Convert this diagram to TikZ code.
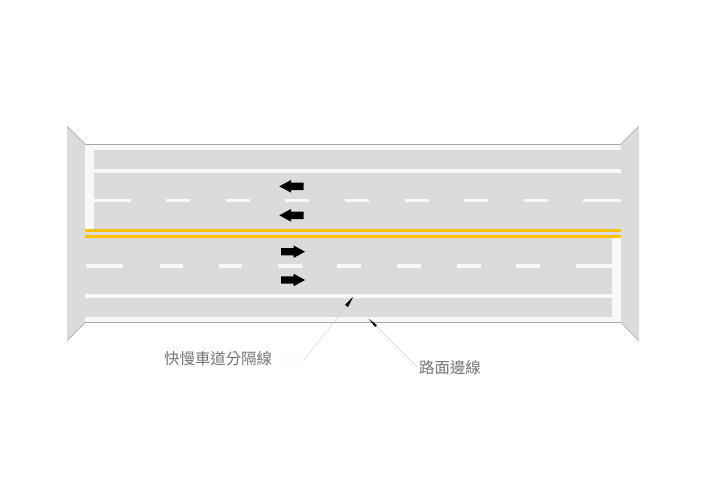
\documentclass[tikz,border=0pt]{standalone}
\usepackage{fontspec}
\newfontfamily\cjk{Noto Sans CJK TC}
\usetikzlibrary{arrows.meta}
\definecolor{road}{HTML}{DBDBDB}
\definecolor{paint}{HTML}{F8F8F8}
\definecolor{edgeline}{HTML}{A8A8A8}
\definecolor{amber}{HTML}{FFC000}
\tikzset{
  x=1pt,y=-1pt,
  roadfill/.style={fill=road,draw=none},
  border/.style={draw=edgeline,line width=1.2pt},
  band/.style={fill=paint,draw=none},
  marking/.style={draw=paint,line width=3.3pt},
  solidline/.style={marking},
  yellowline/.style={draw=amber,line width=3.2pt},
  trafficarrow/.style={fill=black,draw=none},
  label/.style={font=\cjk\fontsize{15.4pt}{16pt}\selectfont,text=black!55,inner sep=0pt},
  leader/.style={draw=black!20,line width=0.4pt},
  tipshape/.style={fill=black,draw=none},
}
\newcommand{\dashrow}[2]{\foreach \a/\b in {#2}{\draw[marking] (\a,#1) -- (\b,#1);}}
\newcommand{\leftarrowmark}[1]{\fill[trafficarrow] (279.3,#1) -- (291,#1-6.3) -- (291,#1-3.7) -- (303.5,#1-3.7) -- (303.5,#1+3.7) -- (291,#1+3.7) -- (291,#1+6.3) -- cycle;}
\newcommand{\rightarrowmark}[1]{\fill[trafficarrow] (305,#1) -- (293.5,#1-6.3) -- (293.5,#1-3.7) -- (281,#1-3.7) -- (281,#1+3.7) -- (293.5,#1+3.7) -- (293.5,#1+6.3) -- cycle;}
\begin{document}
\begin{tikzpicture}
\useasboundingbox (0,0) rectangle (708,500);
% pavement
\fill[roadfill] (67,126) -- (85,144) -- (621,144) -- (639,126) -- (639,341) -- (621,322.5) -- (85,322.5) -- (67,341) -- cycle;
\draw[border,line width=0.6pt] (85,144) -- (67,126);
\draw[border,line width=0.6pt] (621,144) -- (639,126);
\draw[border,line width=0.6pt] (85,322.5) -- (67,341);
\draw[border,line width=0.6pt] (621,322.5) -- (639,341);
% edge bands
\fill[band] (85,145) rectangle (621,150);
\fill[band] (85,145) rectangle (94,228.5);
\fill[band] (85,317) rectangle (621,322);
\fill[band] (612,238) rectangle (621,322);
\draw[border] (85,144.5) -- (621,144.5);
\draw[border] (85,322.7) -- (621,322.7);
% lane lines
\draw[solidline] (94,171) -- (621,171);
\draw[solidline] (85,296) -- (612,296);
\dashrow{200.7}{94/130.5,166/190,226/250,285/309,345/369,405/429,464/488,524/547.5,583/621}
\dashrow{266}{86/123,160/183,219/242,278/302,337/361,397/421,457/481,516/540,576/612}
% centre lines
\draw[yellowline] (85,230.4) -- (621,230.4);
\draw[yellowline] (85,236.4) -- (621,236.4);
% arrows
\leftarrowmark{186.3}
\leftarrowmark{215.3}
\rightarrowmark{251.7}
\rightarrowmark{280}
% labels
\node[label,anchor=west] (lanesep) at (164,359) {快慢車道分隔線};
\node[label,anchor=west] (edgelabel) at (419,367.5) {路面邊線};
\coordinate (elbow) at (304,360);
\coordinate (sepstart) at (279,360);
\coordinate (septip) at (353,297);
\coordinate (sepbase) at (346.5,306);
\coordinate (edgetip) at (369,319);
\coordinate (edgebase) at (376,326);
\coordinate (edgeend) at (417,367);
\draw[leader] (sepstart) -- (elbow) -- (sepbase);
\draw[leader] (edgeend) -- (edgebase);
\fill[tipshape] (septip) -- (345,304.8) -- (348,307) -- cycle;
\fill[tipshape] (edgetip) -- (377,325.2) -- (375,327) -- cycle;
\end{tikzpicture}
\end{document}
